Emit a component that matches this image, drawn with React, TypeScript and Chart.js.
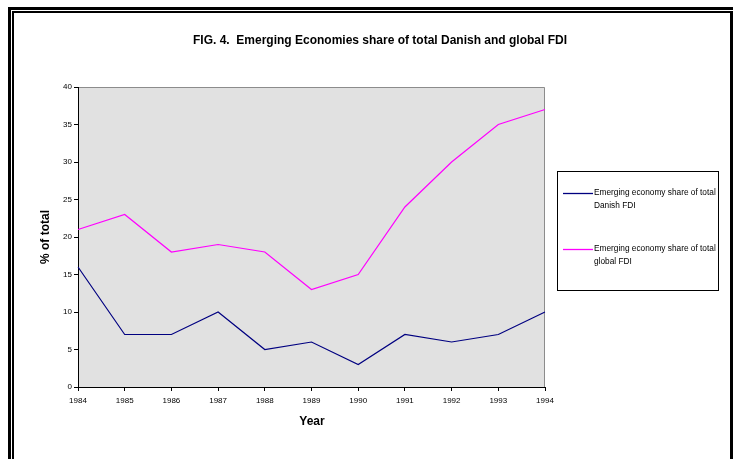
import React, { useEffect, useRef } from "react";
import { Chart, registerables } from "chart.js";

Chart.register(...registerables);

const years = ["1984", "1985", "1986", "1987", "1988", "1989", "1990", "1991", "1992", "1993", "1994"];
const danishShare = [16, 7, 7, 10, 5, 6, 3, 7, 6, 7, 10];
const globalShare = [21, 23, 18, 19, 18, 13, 15, 24, 30, 35, 37];
const seriesNames = [
  ["Emerging economy share of total", "Danish FDI"],
  ["Emerging economy share of total", "global FDI"],
];
const seriesColors = ["#000080", "#ff00ff"];
const chartTitle = "FIG. 4.  Emerging Economies share of total Danish and global FDI";
const yTitle = "% of total";
const xTitle = "Year";

const FONT = "Arial, 'Liberation Sans', sans-serif";

const decorPlugin = {
  id: "decor",
  beforeDraw(chart: any) {
    const { ctx, chartArea: a } = chart;
    ctx.save();
    ctx.fillStyle = "#ffffff";
    ctx.fillRect(0, 0, chart.width, chart.height);
    ctx.fillStyle = "#e1e1e1";
    ctx.fillRect(a.left, a.top, a.right - a.left, a.bottom - a.top);
    ctx.strokeStyle = "#8c8c8c";
    ctx.lineWidth = 1;
    ctx.beginPath();
    ctx.moveTo(a.left, a.top + 0.5);
    ctx.lineTo(a.right - 0.5, a.top + 0.5);
    ctx.lineTo(a.right - 0.5, a.bottom);
    ctx.stroke();
    ctx.restore();
  },
  afterDraw(chart: any) {
    const { ctx, chartArea: a } = chart;
    ctx.save();
    // outer frame
    ctx.fillStyle = "#000";
    ctx.fillRect(8, 7, 733, 3);
    ctx.fillRect(8, 7, 3, 460);
    ctx.fillRect(12, 11, 733, 2);
    ctx.fillRect(12, 11, 2, 460);
    ctx.fillRect(730, 11, 3, 460);

    // title
    ctx.fillStyle = "#000";
    ctx.textAlign = "center";
    ctx.textBaseline = "middle";
    ctx.font = `bold 12px ${FONT}`;
    ctx.fillText(chartTitle, 380, 41);

    // axis titles
    ctx.font = `bold 12px ${FONT}`;
    ctx.fillText(xTitle, (a.left + a.right) / 2 + 0.5, 422);
    ctx.save();
    ctx.translate(46, (a.top + a.bottom) / 2);
    ctx.rotate(-Math.PI / 2);
    ctx.fillText(yTitle, 0, 0);
    ctx.restore();

    // legend box
    ctx.strokeStyle = "#000";
    ctx.lineWidth = 1;
    ctx.strokeRect(557.5, 171.5, 161, 119);
    ctx.font = `8.3px ${FONT}`;
    ctx.textAlign = "left";
    const rows = [193, 249];
    rows.forEach((y, i) => {
      ctx.strokeStyle = seriesColors[i];
      ctx.lineWidth = 1.3;
      ctx.beginPath();
      ctx.moveTo(563, y + 0.5);
      ctx.lineTo(593, y + 0.5);
      ctx.stroke();
      ctx.fillStyle = "#000";
      seriesNames[i].forEach((line, j) => {
        ctx.fillText(line, 594, y + j * 13);
      });
    });
    ctx.restore();
  },
};

export default function App() {
  const ref = useRef<HTMLCanvasElement>(null);
  useEffect(() => {
    if (!ref.current) return;
    const chart = new Chart(ref.current, {
      type: "line",
      data: {
        labels: years,
        datasets: [
          { label: seriesNames[0].join(" "), data: danishShare, borderColor: seriesColors[0], borderWidth: 1.2, pointRadius: 0, tension: 0 },
          { label: seriesNames[1].join(" "), data: globalShare, borderColor: seriesColors[1], borderWidth: 1.2, pointRadius: 0, tension: 0 },
        ],
      },
      options: {
        animation: false,
        responsive: false,
        devicePixelRatio: 1,
        layout: { padding: { left: 38, top: 87, right: 188, bottom: 12 } },
        plugins: { legend: { display: false }, title: { display: false }, tooltip: { enabled: false } },
        scales: {
          x: {
            offset: false,
            afterFit: (s: any) => { s.height = 60; },
            grid: { drawOnChartArea: false, tickLength: 4, color: "#000", offset: false },
            border: { color: "#000", width: 1 },
            ticks: { color: "#000", font: { size: 8, family: FONT }, padding: 5, maxRotation: 0, autoSkip: false },
          },
          y: {
            min: 0,
            max: 40,
            afterFit: (s: any) => { s.width = 40; },
            grid: { drawOnChartArea: false, tickLength: 4, color: "#000" },
            border: { color: "#000", width: 1 },
            ticks: { stepSize: 5, color: "#000", font: { size: 8, family: FONT }, padding: 2 },
          },
        },
      },
      plugins: [decorPlugin],
    });
    return () => chart.destroy();
  }, []);
  return (
    <div style={{ position: "absolute", left: 0, top: 0, width: 733, height: 459 }}>
      <canvas ref={ref} width={733} height={459} style={{ width: 733, height: 459, display: "block" }} />
    </div>
  );
}
